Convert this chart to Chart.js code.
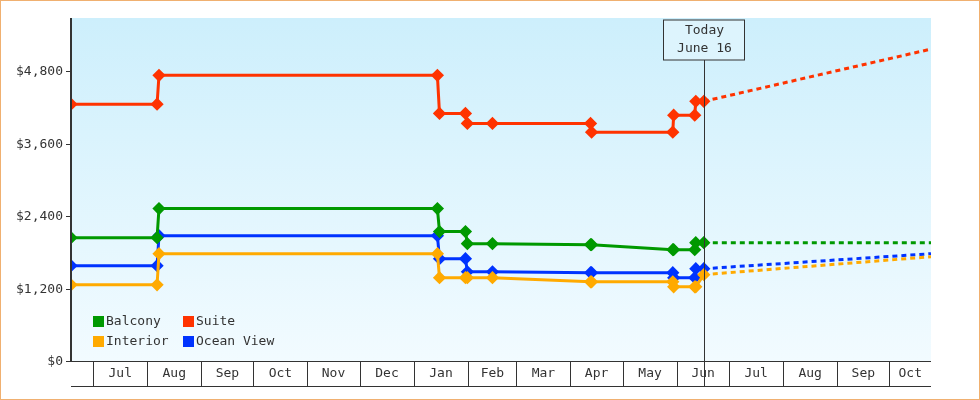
<!DOCTYPE html>
<html><head><meta charset="utf-8">
<script src="https://cdn.jsdelivr.net/npm/chart.js@4/dist/chart.umd.min.js"></script>
<style>html,body{margin:0;padding:0;background:#fff}#w{width:978px;height:398px;border:1px solid #f0b070}</style>
</head><body><div id="w"><canvas id="c" width="978" height="398"></canvas></div>
<script>
// x values: days since Jul 1 (previous year)
const stepDays = [-12.6, 36.8, 37.9, 197.7, 198.9, 213.8, 214.9, 229.3, 285.6, 286.2, 332.8, 333.3, 345.4, 346, 350.6];
const balcony  = [2043, 2043, 2525, 2525, 2143, 2143, 1943, 1943, 1927, 1927, 1843, 1843, 1843, 1960, 1960];
const suite    = [4252, 4252, 4730, 4730, 4100, 4100, 3935, 3935, 3935, 3790, 3790, 4070, 4070, 4300, 4300];
const ocean    = [1578, 1578, 2076, 2076, 1694, 1694, 1478, 1478, 1462, 1462, 1462, 1379, 1379, 1528, 1528];
const interior = [1262, 1262, 1777, 1777, 1379, 1379, 1379, 1379, 1312, 1312, 1312, 1229, 1229, 1229, 1430];
const projDays = [350.6, 481];
const balconyProj = [1960, 1960];
const suiteProj = [4300, 5165];
const oceanProj = [1528, 1777];
const interiorProj = [1430, 1727];
const monthLabels = ['Jul','Aug','Sep','Oct','Nov','Dec','Jan','Feb','Mar','Apr','May','Jun','Jul','Aug','Sep','Oct'];
const monthStarts = [0,31,62,92,123,153,184,215,243,274,304,335,365,396,427,457,488];
const yTicks = [0,1200,2400,3600,4800];
const todayDay = 350.6;
const todayText = ['Today','June 16'];
const names = ['Balcony','Suite','Interior','Ocean View'];
const colors = {Balcony:'#009900',Suite:'#ff3300',Interior:'#ffaa00','Ocean View':'#0033ff'};
const FONT = '13px "DejaVu Sans Mono", monospace';

function pts(xs, ys){return xs.map((x,i)=>({x:x,y:ys[i]}));}
function ds(name, xs, ys, proj){
  return {label:name, data:pts(xs,ys), borderColor:colors[name], backgroundColor:colors[name],
    borderWidth:3, pointStyle:'rectRot', pointRadius:proj?0:4.5, pointHoverRadius:proj?0:4.5,
    borderDash:proj?[5,4]:[], tension:0, fill:false};
}
const skip = {};
const deco = {
  id:'deco',
  beforeDraw(ch){
    const c=ch.ctx, a=ch.chartArea;
    const g=c.createLinearGradient(0,a.top,0,a.bottom);
    g.addColorStop(0,'#cdeffc'); g.addColorStop(1,'#f2fbff');
    c.fillStyle=g; c.fillRect(a.left,a.top,a.right-a.left,a.bottom-a.top);
  },
  afterDraw(ch){
    const c=ch.ctx, a=ch.chartArea, xs=ch.scales.x, ys=ch.scales.y;
    c.save();
    c.font=FONT; c.fillStyle='#333'; c.strokeStyle='#333';
    // y axis
    c.lineWidth=2; c.beginPath(); c.moveTo(a.left,a.top); c.lineTo(a.left,a.bottom+1); c.stroke();
    c.textAlign='right'; c.textBaseline='middle'; c.lineWidth=1;
    yTicks.forEach(v=>{const y=Math.round(ys.getPixelForValue(v))+0.5;
      c.beginPath(); c.moveTo(a.left-5,y); c.lineTo(a.left,y); c.stroke();
      c.fillText('$'+v.toLocaleString('en-US'), a.left-8, y);});
    // x band
    const bt=a.bottom, bb=a.bottom+25;
    c.beginPath(); c.moveTo(a.left,bt+0.5); c.lineTo(a.right,bt+0.5); c.moveTo(a.left,bb+0.5); c.lineTo(a.right,bb+0.5); c.stroke();
    c.textAlign='center';
    for(let i=0;i<monthLabels.length;i++){
      const x0=Math.round(xs.getPixelForValue(monthStarts[i]))+0.5;
      const x1=Math.min(xs.getPixelForValue(monthStarts[i+1]), a.right);
      c.beginPath(); c.moveTo(x0,bt); c.lineTo(x0,bb); c.stroke();
      c.fillText(monthLabels[i], (x0+x1)/2, bt+13);
    }
    // today
    const tx=Math.round(xs.getPixelForValue(todayDay))+0.5;
    c.beginPath(); c.moveTo(tx,a.top+42); c.lineTo(tx,bb); c.stroke();
    c.fillStyle='#ddf4fd'; c.fillRect(tx-41,a.top+2,81,40);
    c.strokeRect(tx-41,a.top+2,81,40);
    c.fillStyle='#333';
    c.fillText(todayText[0],tx,a.top+13); c.fillText(todayText[1],tx,a.top+31);
    // legend
    c.textAlign='left';
    const L=[[names[0],a.left+22,a.bottom-40],[names[1],a.left+112,a.bottom-40],[names[2],a.left+22,a.bottom-20],[names[3],a.left+112,a.bottom-20]];
    L.forEach(([n,x,y])=>{c.fillStyle=colors[n]; c.fillRect(x,y-5,11,11); c.fillStyle='#333'; c.fillText(n,x+13,y+1);});
    c.restore();
  }
};
new Chart(document.getElementById('c'),{
  type:'line',
  data:{datasets:[
    ds('Balcony',stepDays,balcony), ds('Suite',stepDays,suite), ds('Interior',stepDays,interior), ds('Ocean View',stepDays,ocean),
    ds('Balcony',projDays,balconyProj,true), ds('Suite',projDays,suiteProj,true), ds('Interior',projDays,interiorProj,true), ds('Ocean View',projDays,oceanProj,true)
  ]},
  options:{responsive:false, animation:false, devicePixelRatio:1,
    layout:{padding:{left:70,top:17,right:48,bottom:38}},
    plugins:{legend:{display:false},tooltip:{enabled:false}},
    scales:{x:{type:'linear',min:-12.6,max:481,display:false},
            y:{min:0,max:5680,display:false}}
  },
  plugins:[deco]
});
</script></body></html>
